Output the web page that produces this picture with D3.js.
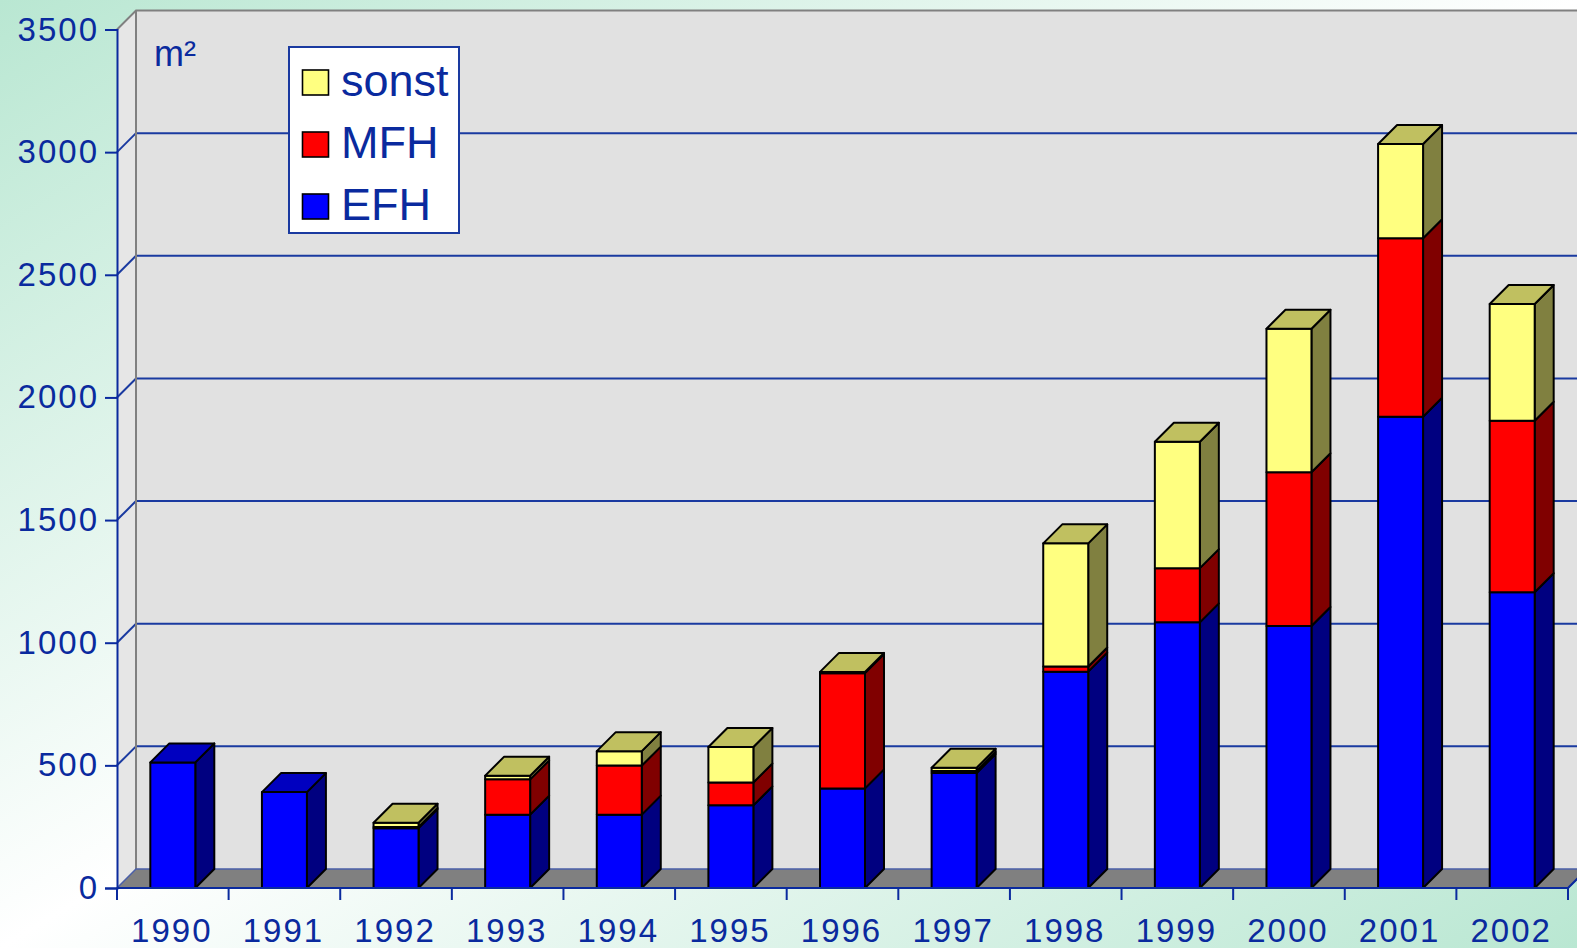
<!DOCTYPE html>
<html lang="de">
<head>
<meta charset="UTF-8">
<title>Wohnfläche 1990-2002</title>
<script src="https://d3js.org/d3.v7.min.js"></script>
<style>
  body {
    margin: 0;
    overflow: hidden;
    font-family: "Liberation Sans", Arial, sans-serif;
  }
  svg { display: block; }
  .axis text {
    fill: #0a2a9e;
    font-size: 33px;
    letter-spacing: 2px;
    font-family: "Liberation Sans", Arial, sans-serif;
  }
  .axis line, .axis path {
    stroke: #0a2a9e;
    stroke-width: 2px;
  }
  .seg, .topface {
    stroke: #000;
    stroke-width: 2px;
    stroke-linejoin: round;
  }
  .legend text {
    fill: #0a2a9e;
    font-size: 45px;
  }
</style>
</head>
<body>
<div id="chart"></div>
<script>
// data
const years = ["1990", "1991", "1992", "1993", "1994", "1995", "1996", "1997", "1998", "1999", "2000", "2001", "2002"];
const efh   = [512, 391, 244, 299, 299, 337, 406, 469, 882, 1083, 1068, 1921, 1206];
const mfh   = [0,   0,   5,   144, 200, 93,  470, 8,   21,  221,  627,  728,  699];
const sonst = [0,   0,   17,  15,  59,  145, 5,   13,  502, 515,  585,  384,  476];
const yTicks = [0, 500, 1000, 1500, 2000, 2500, 3000, 3500];
const seriesKeys = ["EFH", "MFH", "sonst"];
const legendOrder = ["sonst", "MFH", "EFH"];

// colours: front, side, top
const colors = {
  EFH:   { front: "#0000ff", side: "#000080", top: "#0000c0" },
  MFH:   { front: "#ff0000", side: "#800000", top: "#c00000" },
  sonst: { front: "#ffff80", side: "#808040", top: "#c0c060" }
};

const W = 1577, H = 948;
const depth = 19;           // 3d offset (px right / up)
const gridColor = "#1a3aa0";

const svg = d3.select("#chart").append("svg")
  .attr("width", W)
  .attr("height", H);

// background gradient
const defs = svg.append("defs");
const grad = defs.append("linearGradient")
  .attr("id", "bg")
  .attr("x1", 0).attr("y1", 0).attr("x2", 1).attr("y2", 1);
grad.append("stop").attr("offset", "0%").attr("stop-color", "#b9e7d2");
grad.append("stop").attr("offset", "50%").attr("stop-color", "#ffffff");
grad.append("stop").attr("offset", "100%").attr("stop-color", "#b9e7d2");
svg.append("rect").attr("width", W).attr("height", H).attr("fill", "url(#bg)");

// scales
const x = d3.scaleBand()
  .domain(years)
  .range([117, 1568])
  .padding(0);

const y = d3.scaleLinear()
  .domain([0, 3500])
  .range([888, 29.5]);

const barW = x.bandwidth() * 0.403;
const x0 = x.range()[0], x1 = x.range()[1];
const yTop = y(3500), yBase = y(0);

// left side wall
svg.append("polygon")
  .attr("points", [[x0, yTop], [x0 + depth, yTop - depth], [x0 + depth, yBase - depth], [x0, yBase]].join(" "))
  .attr("fill", "#e6e6e6");

// back wall
svg.append("rect")
  .attr("x", x0 + depth)
  .attr("y", yTop - depth)
  .attr("width", x1 + depth - (x0 + depth))
  .attr("height", yBase - yTop)
  .attr("fill", "#e1e1e1");

// gridlines on back wall and side wall
const grid = svg.append("g");
yTicks.filter(t => t > 0 && t < 3500).forEach(t => {
  grid.append("line")
    .attr("x1", x0 + depth).attr("x2", x1 + depth)
    .attr("y1", y(t) - depth).attr("y2", y(t) - depth)
    .attr("stroke", gridColor).attr("stroke-width", 2);
  grid.append("line")
    .attr("x1", x0).attr("x2", x0 + depth)
    .attr("y1", y(t)).attr("y2", y(t) - depth)
    .attr("stroke", gridColor).attr("stroke-width", 2);
});

// wall edges (grey)
svg.append("path")
  .attr("d", `M${x0},${yTop} L${x0 + depth},${yTop - depth} L${x1 + depth},${yTop - depth}`)
  .attr("fill", "none").attr("stroke", "#808080").attr("stroke-width", 2);
svg.append("line")
  .attr("x1", x0 + depth).attr("x2", x0 + depth)
  .attr("y1", yTop - depth).attr("y2", yBase - depth)
  .attr("stroke", "#808080").attr("stroke-width", 2);

// floor
svg.append("polygon")
  .attr("points", [[x0, yBase], [x0 + depth, yBase - depth], [x1 + depth, yBase - depth], [x1, yBase]].join(" "))
  .attr("fill", "#808080")
  .attr("stroke", "#4a5fa8")
  .attr("stroke-width", 1.5);

// stacked bars
const rows = years.map((yr, i) => ({ year: yr, EFH: efh[i], MFH: mfh[i], sonst: sonst[i] }));
const stacked = d3.stack().keys(seriesKeys)(rows);
const bars = svg.append("g");

function barLeft(d) { return x(d.data.year) + (x.bandwidth() - barW) / 2; }

stacked.forEach(layer => {
  const c = colors[layer.key];
  const g = bars.append("g");
  const segs = layer.filter(d => d[1] - d[0] > 0);
  // side face
  g.selectAll(".side")
    .data(segs)
    .join("polygon")
    .attr("class", "seg")
    .attr("fill", c.side)
    .attr("points", d => {
      const l = barLeft(d) + barW, t = y(d[1]), b = y(d[0]);
      return [[l, t], [l + depth, t - depth], [l + depth, b - depth], [l, b]].join(" ");
    });
  // front face
  g.selectAll(".front")
    .data(segs)
    .join("rect")
    .attr("class", "seg")
    .attr("fill", c.front)
    .attr("x", d => barLeft(d))
    .attr("y", d => y(d[1]))
    .attr("width", barW)
    .attr("height", d => y(d[0]) - y(d[1]));
});

// top faces, coloured by the uppermost non-empty series
const tops = rows.map(r => {
  const last = seriesKeys.filter(k => r[k] > 0).pop();
  const total = d3.sum(seriesKeys, k => r[k]);
  return { year: r.year, key: last, total: total };
});
bars.selectAll(".topface")
  .data(tops)
  .join("polygon")
  .attr("class", "topface")
  .attr("fill", d => colors[d.key].top)
  .attr("points", d => {
    const l = x(d.year) + (x.bandwidth() - barW) / 2, t = y(d.total);
    return [[l, t], [l + depth, t - depth], [l + barW + depth, t - depth], [l + barW, t]].join(" ");
  });

// y axis
svg.append("g")
  .attr("class", "axis")
  .attr("transform", `translate(${x0},0)`)
  .call(d3.axisLeft(y).tickValues(yTicks).tickSize(12).tickPadding(6).tickFormat(d3.format("d")));

// x axis: labels centred, ticks at the category borders
const xAxis = svg.append("g")
  .attr("class", "axis")
  .attr("transform", `translate(0,${yBase})`)
  .call(d3.axisBottom(x).tickSize(0).tickPadding(31));
xAxis.select(".domain").remove();
xAxis.selectAll("text").attr("dx", "-1px");

const borders = years.map(yr => x(yr)).concat([x1]);
xAxis.selectAll(".border")
  .data(borders)
  .join("line")
  .attr("x1", d => d).attr("x2", d => d)
  .attr("y1", 0).attr("y2", 12)
  .attr("stroke", "#0a2a9e").attr("stroke-width", 2);
xAxis.append("line")
  .attr("x1", x0).attr("x2", x1)
  .attr("y1", 0).attr("y2", 0)
  .attr("stroke", "#0a2a9e").attr("stroke-width", 2.5);
// right floor edge
svg.append("line")
  .attr("x1", x1).attr("y1", yBase)
  .attr("x2", x1 + depth).attr("y2", yBase - depth)
  .attr("stroke", "#0a2a9e").attr("stroke-width", 2);

// unit label
svg.append("text")
  .attr("x", 154)
  .attr("y", 66)
  .attr("fill", "#0a2a9e")
  .style("font-size", "36px")
  .text("m²");

// legend
const legend = svg.append("g").attr("class", "legend");
legend.append("rect")
  .attr("x", 289).attr("y", 47)
  .attr("width", 170).attr("height", 186)
  .attr("fill", "#ffffff")
  .attr("stroke", gridColor)
  .attr("stroke-width", 2);
legendOrder.forEach((k, i) => {
  const ty = 70 + i * 62;
  legend.append("rect")
    .attr("x", 302.5).attr("y", ty)
    .attr("width", 26).attr("height", 25)
    .attr("fill", colors[k].front)
    .attr("stroke", "#000")
    .attr("stroke-width", 1.6);
  legend.append("text")
    .attr("x", 341)
    .attr("y", ty + 26)
    .text(k);
});
</script>
</body>
</html>
